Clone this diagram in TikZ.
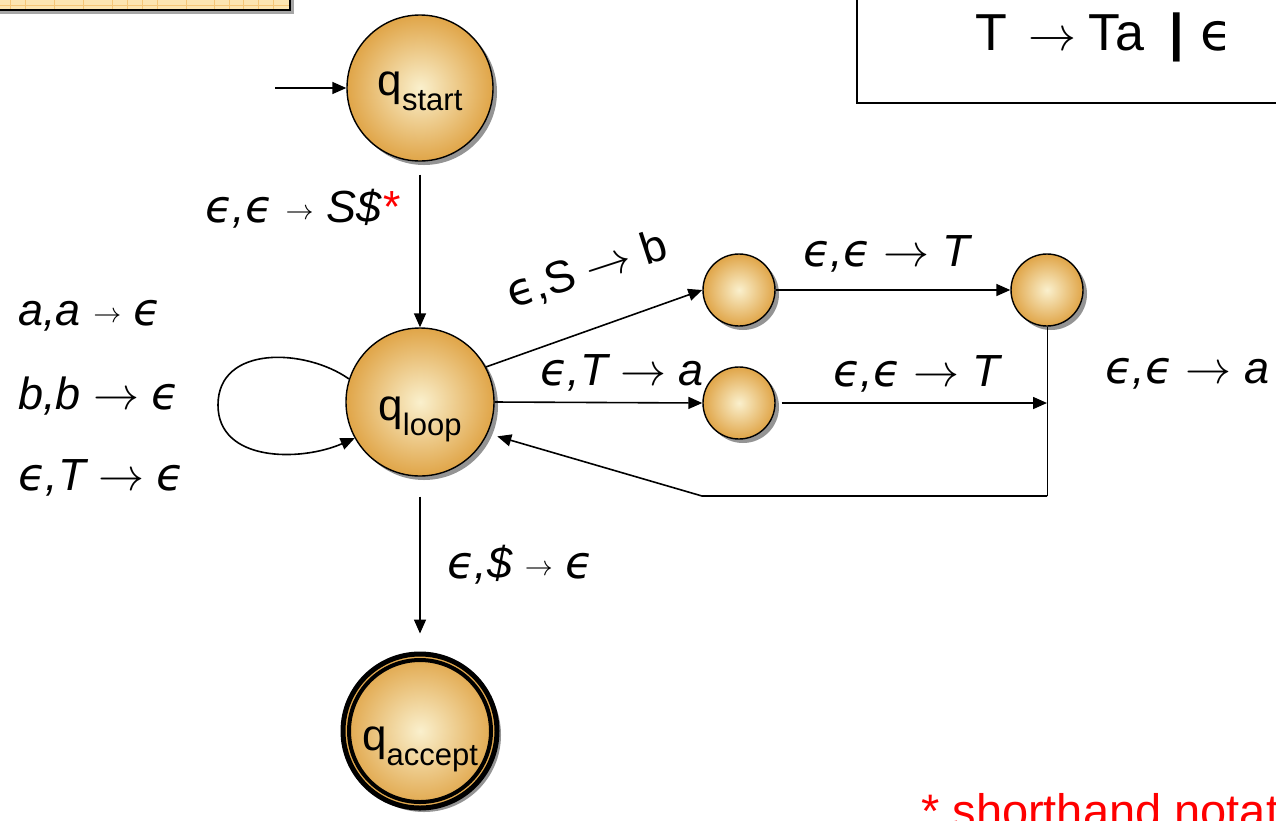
\documentclass[tikz,border=0pt]{standalone}
\usepackage{graphicx}
\usepackage{fontspec}
\setmainfont{Liberation Sans}
\newfontfamily\epsfam{DejaVu Sans}
\usetikzlibrary{shadows,arrows.meta}

\definecolor{goldrim}{HTML}{E0A548}
\definecolor{goldcore}{HTML}{FAF0CD}
\definecolor{padfill}{HTML}{FCE5B0}
\definecolor{padgrid}{HTML}{F4C677}
\definecolor{notered}{HTML}{FF0000}

% text sizes used by the transition labels and state names
\newcommand{\labsize}{\fontsize{45}{50}\selectfont}
\newcommand{\eps}{{\epsfam ϵ}}
\newcommand{\shortto}{\raisebox{3pt}{\scalebox{2.8}{\normalsize$\rightarrow$}}}
\newcommand{\longto}{\scalebox{4.6}{\normalsize$\rightarrow$}}
\newcommand{\qsub}[1]{{\fontsize{44}{44}\selectfont q}\raisebox{-15pt}{\fontsize{31}{31}\selectfont #1}}

\begin{document}
\begin{tikzpicture}[x=1pt,y=-1pt,
  bigstate/.style={circle, draw=black, line width=1.4pt, inner sep=0pt,
    inner color=goldcore, outer color=goldrim,
    drop shadow={shadow xshift=4pt, shadow yshift=-4pt, fill=black!60, opacity=0.7},
    minimum size=146pt, text depth=10pt},
  smallstate/.style={bigstate, minimum size=72pt},
  conn/.style={line width=1.6pt, -{Triangle[length=14pt,width=12pt]}},
  lab/.style={anchor=base west, inner sep=0pt, font=\labsize\itshape},
  uplab/.style={anchor=base west, inner sep=0pt, font=\labsize},
]
\useasboundingbox (0,0) rectangle (1276,820);
\clip (0,0) rectangle (1276,820);

% grid pad in the upper left corner
\fill[padfill] (-5,-5) rectangle (290,10);
\foreach \gx in {10,25,54,83,112,127,142,157,186,214,229,243,258,273}
  \draw[padgrid, line width=1pt] (\gx,-5) -- (\gx,10);
\draw[padgrid, line width=1pt] (-5,5) -- (290,5);
\fill[black!35] (-5,11) rectangle (293,13.5);
\fill[black!35] (291,-5) rectangle (293.5,13.5);
\draw[line width=2.5pt] (290,-5) -- (290,10) -- (-5,10);

% grammar frame in the upper right corner
\draw[line width=2pt] (857,-5) -- (857,103) -- (1285,103);
\node[anchor=base west, inner sep=0pt, font=\fontsize{52}{56}\selectfont] (gram) at (975,50)
  {T\hspace{22pt}\scalebox{4.8}{\normalsize$\rightarrow$}\hspace{12pt}Ta\hspace{26pt}\textbf{|}\hspace{16pt}\eps};

% states
\node[bigstate, text height=24pt] (qs) at (420,88) {\qsub{start}};
\node[bigstate, minimum size=148pt, text height=46pt] (ql) at (420,402) {\qsub{loop}};
\node[bigstate, minimum size=154pt, line width=5pt, text height=48pt] (qa) at (420,731) {\qsub{accept}};
\draw[line width=4pt] (qa.center) circle[radius=71pt];
\node[smallstate] (pa) at (739,290) {};
\node[smallstate] (pb) at (1047,290) {};
\node[smallstate] (pc) at (739,403) {};

% helper points
\coordinate (init) at (275,88);
\coordinate (join) at (1047,403);
\coordinate (back1) at (1047,496);
\coordinate (back2) at (702,496);

% transitions
\draw[conn] (init) -- (qs);
\draw[conn, shorten <=13pt] (qs) -- (ql);
\draw[conn, shorten <=20pt, shorten >=18pt] (ql) -- (qa);
\draw[conn] (ql.28) -- (pa.west);
\draw[conn] (ql.east) -- (pc.west);
\draw[conn] (pa) -- (pb);
\draw[conn, shorten <=6pt] (pc) -- (join);
\draw[line width=1pt] (pb.south) -- (back1);
\draw[conn, shorten >=10pt] (back1) -- (back2) -- (ql.-25);
\draw[conn] (ql.162) .. controls (305,348) and (218,345) .. (218,405)
                     .. controls (218,462) and (300,462) .. (ql.209);

% labels
\node[lab] (l1) at (205,222) {\eps,\eps{} \shortto{} S\$\textcolor{notered}{*}};
\node[lab] (l2) at (18,325) {a,a \shortto{} \eps};
\node[lab] (l3) at (18,409) {b,b \longto{} \eps};
\node[lab] (l4) at (18,490) {\eps,T \longto{} \eps};
\node[uplab, rotate=18] (l5) at (512,309) {\eps,S \longto{} b};
\node[lab] (l6) at (540,385) {\eps,T \longto{} a};
\node[lab] (l7) at (803,266) {\eps,\eps{} \longto{} T};
\node[lab] (l8) at (833,386) {\eps,\eps{} \longto{} T};
\node[lab] (l9) at (1105,383) {\eps,\eps{} \longto{} a};
\node[lab] (l10) at (447,578) {\eps,\$ \shortto{} \eps};

% footnote
\node[anchor=base west, inner sep=0pt, font=\fontsize{47}{50}\selectfont, text=notered] (note) at (921,827)
  {* shorthand notation};
\end{tikzpicture}
\end{document}
